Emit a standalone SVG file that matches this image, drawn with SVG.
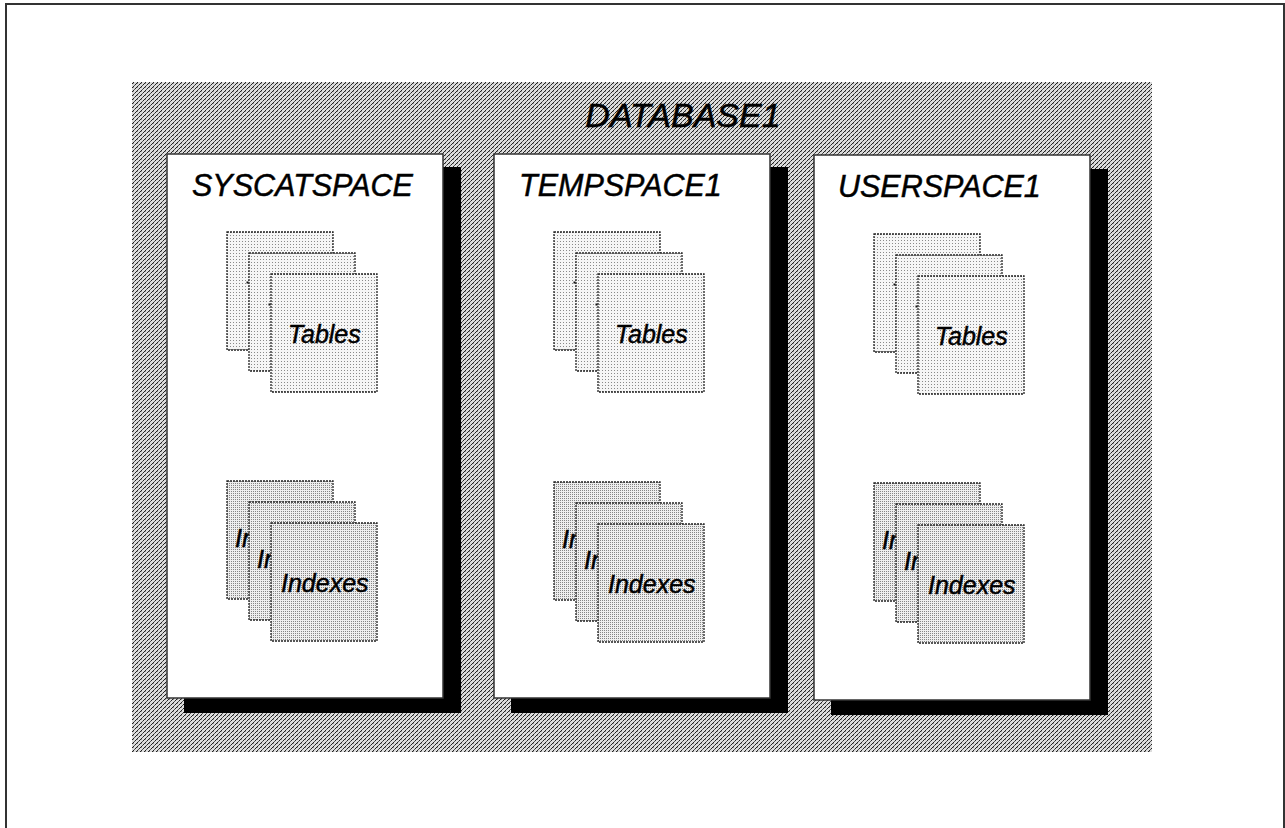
<svg xmlns="http://www.w3.org/2000/svg" width="1285" height="828" viewBox="0 0 1285 828">
  <defs>
    <!-- diagonal hatching for the database area -->
    <pattern id="hatch" width="4" height="4" patternUnits="userSpaceOnUse">
      <rect width="4" height="4" fill="#dcdcdc"/>
      <rect x="0" y="3" width="1" height="1" fill="#222"/>
      <rect x="1" y="2" width="1" height="1" fill="#222"/>
      <rect x="2" y="1" width="1" height="1" fill="#555"/>
      <rect x="3" y="0" width="1" height="1" fill="#222"/>
      <rect x="1" y="3" width="1" height="1" fill="#999"/>
    </pattern>
    <!-- light dot screen for table pages -->
    <pattern id="dotsLight" width="3" height="3" patternUnits="userSpaceOnUse">
      <rect width="3" height="3" fill="#f6f6f6"/>
      <rect x="0" y="0" width="1" height="1" fill="#8a8a8a"/>
    </pattern>
    <!-- denser dot screen for index pages -->
    <pattern id="dotsDense" width="2" height="2" patternUnits="userSpaceOnUse">
      <rect width="2" height="2" fill="#eeeeee"/>
      <rect x="0" y="0" width="1" height="1" fill="#858585"/>
    </pattern>
    <!-- one stack of three pages: tables -->
    <g id="tableStack">
      <rect x="0" y="0" width="106" height="118" class="tpage"/>
      <rect x="19.5" y="49.5" width="2" height="2" fill="#111"/>
      <rect x="22" y="21" width="106" height="118" class="tpage"/>
      <rect x="41.5" y="71.5" width="2" height="2" fill="#111"/>
      <rect x="44" y="42" width="106" height="118" class="tpage"/>
      <text x="61" y="111" class="pagelabel">Tables</text>
    </g>
    <!-- one stack of three pages: indexes -->
    <g id="indexStack">
      <rect x="0" y="0" width="106" height="118" class="ipage"/>
      <text x="8" y="66" class="pagelabel">Indexes</text>
      <rect x="22" y="21" width="106" height="118" class="ipage"/>
      <text x="30" y="87" class="pagelabel">Indexes</text>
      <rect x="44" y="42" width="106" height="118" class="ipage"/>
      <text x="54" y="111" class="pagelabel">Indexes</text>
    </g>
  </defs>
  <style>
    .frame { fill: #fff; stroke: #333; stroke-width: 2; }
    .db { fill: url(#hatch); }
    .shadow { fill: #000; }
    .space { fill: #fff; stroke: #333; stroke-width: 1.5; }
    .tpage { fill: url(#dotsLight); stroke: #222; stroke-width: 1.3; stroke-dasharray: 2 1; }
    .ipage { fill: url(#dotsDense); stroke: #222; stroke-width: 1.3; stroke-dasharray: 2 1; }
    text { font-family: "Liberation Sans", Arial, sans-serif; font-style: italic; fill: #000; stroke: #000; stroke-width: 0.5; }
    .dbtitle { font-size: 34px; }
    .spacetitle { font-size: 30.5px; }
    .pagelabel { font-size: 25px; }
  </style>

  <rect x="6" y="4" width="1278" height="900" class="frame"/>

  <g id="database1">
    <rect x="132" y="82" width="1020" height="670" class="db"/>
    <text x="683" y="127" class="dbtitle" text-anchor="middle">DATABASE1</text>
  </g>

  <g id="syscatspace">
    <rect x="184" y="167" width="277" height="546" class="shadow"/>
    <rect x="167" y="154" width="276" height="544" class="space"/>
    <text x="192" y="196" class="spacetitle">SYSCATSPACE</text>
    <use href="#tableStack" x="227" y="232"/>
    <use href="#indexStack" x="227" y="481"/>
  </g>

  <g id="tempspace1">
    <rect x="511" y="167" width="277" height="546" class="shadow"/>
    <rect x="494" y="154" width="276" height="544" class="space"/>
    <text x="519" y="196" class="spacetitle">TEMPSPACE1</text>
    <use href="#tableStack" x="554" y="232"/>
    <use href="#indexStack" x="554" y="482"/>
  </g>

  <g id="userspace1">
    <rect x="831" y="169" width="277" height="546" class="shadow"/>
    <rect x="814" y="155" width="276" height="545" class="space"/>
    <text x="838" y="197" class="spacetitle">USERSPACE1</text>
    <use href="#tableStack" x="874" y="234"/>
    <use href="#indexStack" x="874" y="483"/>
  </g>

  <g id="connectors"/>
</svg>
